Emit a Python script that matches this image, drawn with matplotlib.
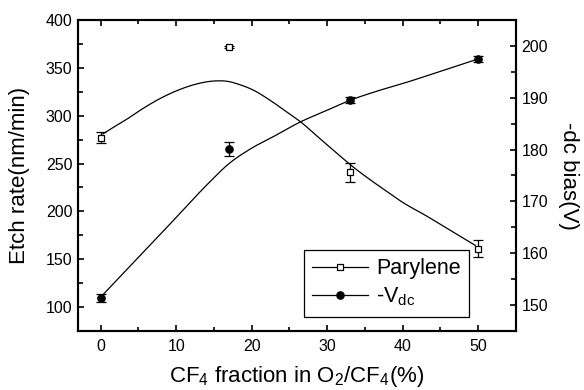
import matplotlib
matplotlib.use("Agg")
import matplotlib.pyplot as plt
import numpy as np
from matplotlib.lines import Line2D
from matplotlib.ticker import MultipleLocator

plt.rcParams['font.family'] = ['Liberation Sans', 'DejaVu Sans']
plt.rcParams['mathtext.fontset'] = 'custom'
plt.rcParams['mathtext.rm'] = 'Liberation Sans'
plt.rcParams['mathtext.it'] = 'Liberation Sans'
plt.rcParams['mathtext.default'] = 'regular'

# measured data
cf4_fraction = [0, 17, 33, 50]
parylene_rate = [277, 372, 241, 161]
parylene_err = [6, 1, 10, 9]
vdc = [151.4, 180.1, 189.6, 197.5]
vdc_err = [0.8, 1.4, 0.6, 0.6]

# fitted curves
par_fit_x = [0.3, 1.4, 3.6, 5.4, 8.0, 10.2, 12.4, 15.1, 16.8, 18.4, 20.2, 22.4, 24.6,
             26.4, 29.0, 31.3, 33.5, 35.7, 37.5, 40.1, 43.2, 45.4, 47.6, 49.6]
par_fit_y = [281, 286.5, 297, 306.5, 318.5, 326.5, 332.5, 336.3, 335.9, 332.5, 326.8, 316.3, 304.1,
             294.0, 276.3, 260.6, 246, 233, 223, 208.9, 195, 184.5, 174, 164.5]
vdc_fit_x = [0.3, 5, 10, 14, 17, 19.8, 23, 26.4, 30, 33, 36, 41, 45, 49.6]
vdc_fit_y = [152.0, 159.2, 166.9, 173.1, 177.3, 180.1, 182.6, 185.3, 187.6, 189.5, 191.0, 193.2, 195.1, 197.3]


def smooth_curve(x, y, n=40):
    """Cubic Hermite drawing through read points (finite-difference slopes)."""
    x = np.asarray(x, float)
    y = np.asarray(y, float)
    m = np.gradient(y, x)
    xs_all, ys_all = [], []
    for i in range(len(x) - 1):
        h = x[i + 1] - x[i]
        t = np.linspace(0, 1, n, endpoint=False)
        h00 = 2 * t**3 - 3 * t**2 + 1
        h10 = t**3 - 2 * t**2 + t
        h01 = -2 * t**3 + 3 * t**2
        h11 = t**3 - t**2
        xs_all.append(x[i] + t * h)
        ys_all.append(h00 * y[i] + h10 * h * m[i] + h01 * y[i + 1] + h11 * h * m[i + 1])
    xs_all.append([x[-1]])
    ys_all.append([y[-1]])
    return np.concatenate(xs_all), np.concatenate(ys_all)


px, py = smooth_curve(par_fit_x, par_fit_y)
vx, vy = smooth_curve(vdc_fit_x, vdc_fit_y)

fig = plt.figure(figsize=(5.84, 3.90), dpi=100)
ax = fig.add_axes([78/584, 1-331/390, (516-78)/584, (331-20)/390])
ax2 = ax.twinx()

ax.plot(px, py, color='black', lw=0.9)
ax.errorbar(cf4_fraction, parylene_rate, yerr=parylene_err, fmt='s', ms=4.3,
            mfc='white', mec='black', mew=0.9, ecolor='black', elinewidth=0.9,
            capsize=3.5, capthick=0.9)
ax2.plot(vx, vy, color='black', lw=0.9)
ax2.errorbar(cf4_fraction, vdc, yerr=vdc_err, fmt='o', ms=5.2,
             mfc='black', mec='black', ecolor='black', elinewidth=0.9,
             capsize=3.5, capthick=0.9)

ax.set_xlim(-3, 55)
ax.set_ylim(75, 400)
ax2.set_ylim(145, 205)

ax.xaxis.set_major_locator(MultipleLocator(10))
ax.xaxis.set_minor_locator(MultipleLocator(5))
ax.yaxis.set_major_locator(MultipleLocator(50))
ax.yaxis.set_minor_locator(MultipleLocator(25))
ax2.yaxis.set_major_locator(MultipleLocator(10))
ax2.yaxis.set_minor_locator(MultipleLocator(5))

for a in (ax, ax2):
    for s in a.spines.values():
        s.set_linewidth(1.5)

ax.tick_params(axis='x', which='both', direction='in', top=True, width=1.2, labelsize=11.5, pad=6)
ax.tick_params(axis='x', which='major', length=4.5)
ax.tick_params(axis='x', which='minor', length=2.6)
ax.tick_params(axis='y', which='both', direction='in', right=False, width=1.2, labelsize=11.5, pad=4)
ax.tick_params(axis='y', which='major', length=4)
ax.tick_params(axis='y', which='minor', length=3.5)
ax2.tick_params(axis='y', which='both', direction='in', width=1.2, labelsize=11.5, pad=4)
ax2.tick_params(axis='y', which='major', length=4)
ax2.tick_params(axis='y', which='minor', length=3.5)

ax.set_xlabel('CF$_4$ fraction in O$_2$/CF$_4$(%)', fontsize=16, labelpad=7)
ax.set_ylabel('Etch rate(nm/min)', fontsize=16, labelpad=11)
ax2.set_ylabel('-dc bias(V)', fontsize=16, rotation=270, labelpad=22)

handles = [
    Line2D([], [], color='black', lw=0.9, marker='s', ms=4.3, mfc='white', mec='black', mew=0.9),
    Line2D([], [], color='black', lw=0.9, marker='o', ms=5.2, mfc='black', mec='black'),
]
leg = ax2.legend(handles, ['Parylene', '-V$_{dc}$'], loc='lower right',
                 bbox_to_anchor=((469-78)/438, (331-317)/311), fontsize=15.5,
                 frameon=True, fancybox=False, framealpha=1, edgecolor='black',
                 handlelength=2.6, handletextpad=0.35, labelspacing=0.3,
                 borderpad=0.4, borderaxespad=0)
leg.get_frame().set_linewidth(0.9)

fig.savefig('out.png', dpi=100)
